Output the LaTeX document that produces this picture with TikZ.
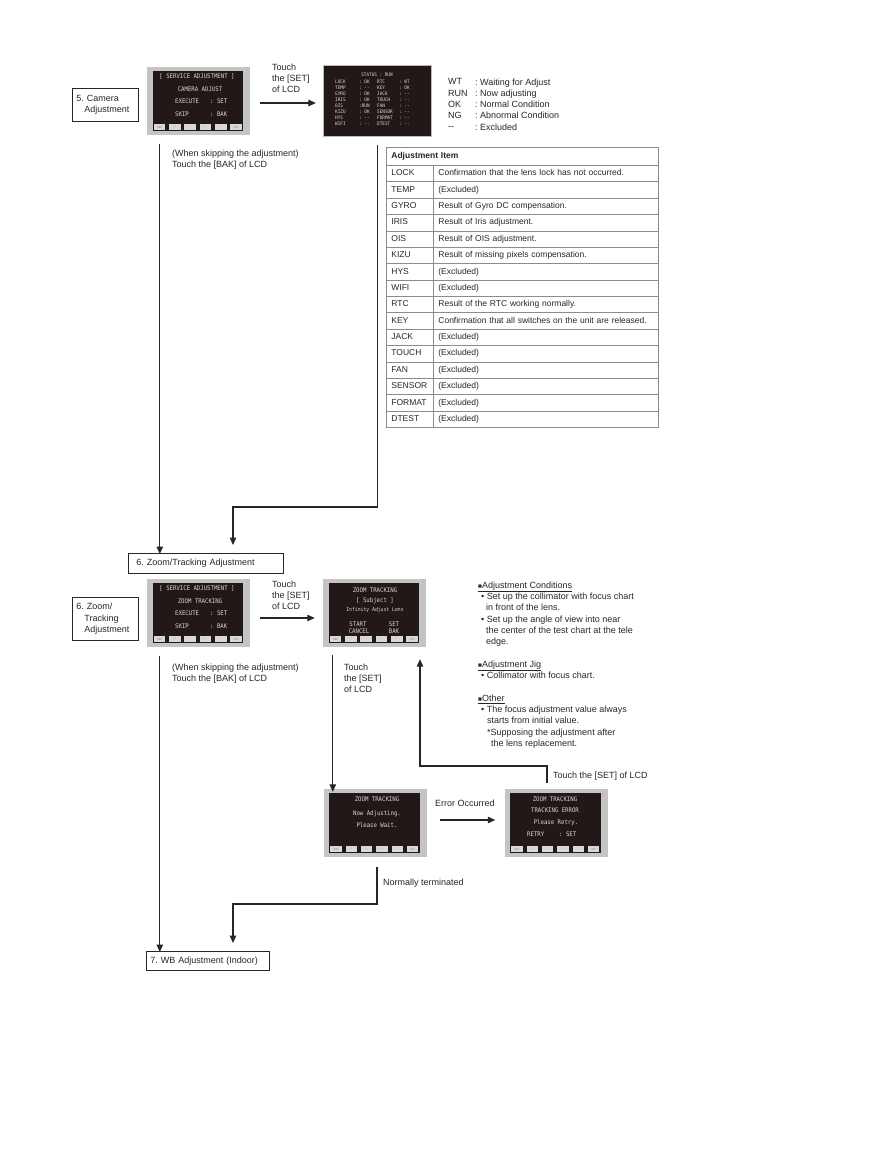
\documentclass[tikz,border=0pt]{standalone}
\usepackage{fontspec}
\setmainfont{Liberation Sans}
\newfontfamily\lcdfont[FakeStretch=0.9]{DejaVu Sans Mono}
\usetikzlibrary{arrows.meta}

\definecolor{ink}{HTML}{262626}
\definecolor{lcdgray}{HTML}{C4C4C4}
\definecolor{lcddark}{HTML}{211817}
\definecolor{lcdtext}{HTML}{DDD8D3}
\definecolor{keygray}{HTML}{D8D8D8}
\definecolor{rule}{HTML}{8C8C8C}

% dark face and key strip of an LCD screen node
\newcommand{\lcdface}[1]{%
  \fill[lcddark] ([shift={(6,4)}]#1.north west) rectangle ([shift={(-7,-4)}]#1.south east);
  \foreach \k [count=\i from 0] in {BAK,<,\textasciicircum,v,>,SET}{
    \fill[keygray] ([shift={({7+\i*15.3},-5)}]#1.south west) rectangle ++(11.5,-6);
    \node[font=\lcdfont\fontsize{2.6}{3}\selectfont, text=gray, inner sep=0pt] (#1k\i)
      at ([shift={({12.75+\i*15.3},-8)}]#1.south west) {\k};
  }%
}
\newcommand{\sqmark}{{\fontsize{6.5}{6.5}\selectfont■}}

\begin{document}
\frenchspacing
\begin{tikzpicture}[x=1pt,y=-1pt,
    flow/.style={draw=ink, line width=1.1pt, -{Triangle[length=7.5pt,width=6.5pt]}},
    stepbox/.style={draw=ink, line width=0.8pt, anchor=north west, inner ysep=0pt,
      align=left, text=ink, font=\fontsize{9}{11.3}\selectfont},
    lbl/.style={anchor=north west, inner sep=0pt, align=left, text=ink,
      font=\fontsize{9}{11.3}\selectfont},
    lcd/.style={fill=lcdgray, minimum width=103pt, minimum height=68pt, inner sep=0pt},
    lcdtxt/.style={text=lcdtext, inner sep=0pt, font=\lcdfont\fontsize{6.3}{7}\selectfont},
    stattxt/.style={text=lcdtext, inner sep=0pt, anchor=north west, align=left,
      font=\lcdfont\fontsize{4.8}{6.1}\selectfont},
    cell/.style={draw=rule, line width=0.8pt, anchor=north west, minimum height=16.375pt,
      inner xsep=5pt, inner ysep=0pt, text height=6.3pt, text depth=1.8pt,
      align=left, text=ink, font=\fontsize{8.5}{10}\selectfont}]

  \useasboundingbox (0,0) rectangle (882,1152);

  % ---- 5. camera adjustment
  \node[stepbox, text width=58pt, inner xsep=4pt, minimum height=33pt] (s5) at (72,88)
    {5. Camera\\\hspace*{8pt}Adjustment};

  \node[lcd] (A1) at (198.5,101) {};
  \lcdface{A1}
  \node[lcdtxt] (a1t) at (197,77) {[ SERVICE ADJUSTMENT ]};
  \node[lcdtxt] (a1m) at (200,89) {CAMERA ADJUST};
  \node[lcdtxt, anchor=west] (a1e) at (175,101.5) {EXECUTE};
  \node[lcdtxt, anchor=west] (a1s) at (210,101.5) {: SET};
  \node[lcdtxt, anchor=west] (a1k) at (175,114) {SKIP};
  \node[lcdtxt, anchor=west] (a1b) at (210,114) {: BAK};

  \node[fill=lcddark, draw=gray!55, line width=1.2pt, minimum width=108pt,
    minimum height=71pt, inner sep=0pt] (st) at (377.5,101) {};
  \node[stattxt, anchor=center] (sth) at (377,75) {STATUS : RUN};
  \node[stattxt] (stn1) at (335,79.5) {LOCK\\TEMP\\GYRO\\IRIS\\OIS\\KIZU\\HYS\\WIFI};
  \node[stattxt] (stv1) at (359,79.5) {: OK\\: -{}-\\: OK\\: OK\\:RUN\\: OK\\: -{}-\\: -{}-};
  \node[stattxt] (stn2) at (377,79.5) {RTC\\KEY\\JACK\\TOUCH\\FAN\\SENSOR\\FORMAT\\DTEST};
  \node[stattxt] (stv2) at (399,79.5) {: WT\\: OK\\: -{}-\\: -{}-\\: -{}-\\: -{}-\\: -{}-\\: -{}-};

  \node[lbl] (t1) at (272,63.5) {Touch\\the [SET]\\of LCD};
  \draw[flow] ([shift={(10,2)}]A1.east) -- ([shift={(-7,2)}]st.west);

  \node[lbl, font=\fontsize{9}{11.25}\selectfont] (lgk) at (448,78.5) {WT\\RUN\\OK\\NG\\-{}-};
  \node[lbl, font=\fontsize{9}{11.25}\selectfont] (lgv) at (475,78.5)
    {: Waiting for Adjust\\: Now adjusting\\: Normal Condition\\: Abnormal Condition\\: Excluded};

  % ---- adjustment items
  \node[cell, minimum height=18pt, text width=262pt, font=\bfseries\fontsize{8.5}{10}\selectfont]
    (th) at (386,147) {Adjustment Item};
  \foreach \n/\d [count=\i from 0] in {LOCK/Confirmation that the lens lock has not occurred.,
      TEMP/(Excluded), GYRO/Result of Gyro DC compensation., IRIS/Result of Iris adjustment.,
      OIS/Result of OIS adjustment., KIZU/Result of missing pixels compensation.,
      HYS/(Excluded), WIFI/(Excluded), RTC/Result of the RTC working normally.,
      KEY/Confirmation that all switches on the unit are released.,
      JACK/(Excluded), TOUCH/(Excluded), FAN/(Excluded), SENSOR/(Excluded),
      FORMAT/(Excluded), DTEST/(Excluded)}{
    \node[cell, text width=37pt] (tn\i) at (386,{165+\i*16.375}) {\n};
    \node[cell, text width=215pt] (td\i) at (433,{165+\i*16.375}) {\d};
  }

  \node[lbl] (t2) at (172,149.5) {(When skipping the adjustment)\\Touch the [BAK] of LCD};

  \node[stepbox, text width=139pt, inner xsep=8pt, minimum height=20pt] (zt) at (128,553)
    {6. Zoom/Tracking Adjustment};

  \draw[flow, shorten >=8pt] ([shift={(13,9)}]A1.south west) -- ([shift={(13,9)}]A1.south west |- zt.north);
  \coordinate (j1) at (233,507);
  \draw[flow, shorten >=8pt] ([shift={(0,8)}]st.south) |- (j1) -- (j1 |- zt.north);

  % ---- 6. zoom/tracking adjustment
  \node[stepbox, text width=58pt, inner xsep=4pt, minimum height=43pt] (s6) at (72,597)
    {6. Zoom/\\\hspace*{8pt}Tracking\\\hspace*{8pt}Adjustment};

  \node[lcd] (B1) at (198.5,613) {};
  \lcdface{B1}
  \node[lcdtxt] (b1t) at (197,589) {[ SERVICE ADJUSTMENT ]};
  \node[lcdtxt] (b1m) at (200,601) {ZOOM TRACKING};
  \node[lcdtxt, anchor=west] (b1e) at (175,613.5) {EXECUTE};
  \node[lcdtxt, anchor=west] (b1s) at (210,613.5) {: SET};
  \node[lcdtxt, anchor=west] (b1k) at (175,626) {SKIP};
  \node[lcdtxt, anchor=west] (b1b) at (210,626) {: BAK};

  \node[lcd] (B2) at (374.5,613) {};
  \lcdface{B2}
  \node[lcdtxt] (b2t) at (375,590) {ZOOM TRACKING};
  \node[lcdtxt] (b2s) at (375,601) {[ Subject ]};
  \node[lcdtxt, font=\lcdfont\fontsize{5.3}{6}\selectfont] (b2l) at (375,610) {Infinity Adjust Lens};
  \node[lcdtxt] (b2a) at (358,624) {START};
  \node[lcdtxt] (b2c) at (359,631) {CANCEL};
  \node[lcdtxt] (b2e) at (394,624) {SET};
  \node[lcdtxt] (b2b) at (394,631) {BAK};

  \node[lbl] (t3) at (272,580.5) {Touch\\the [SET]\\of LCD};
  \draw[flow] ([shift={(10,5)}]B1.east) -- ([shift={(-8,5)}]B2.west);

  \node[lbl] (nt) at (478,581.5) {\underline{\sqmark Adjustment Conditions}\\
    \hspace*{3pt}• Set up the collimator with focus chart\\
    \hspace*{8pt}in front of the lens.\\
    \hspace*{3pt}• Set up the angle of view into near\\
    \hspace*{8pt}the center of the test chart at the tele\\
    \hspace*{8pt}edge.\\[11.3pt]
    \underline{\sqmark Adjustment Jig}\\
    \hspace*{3pt}• Collimator with focus chart.\\[11.3pt]
    \underline{\sqmark Other}\\
    \hspace*{3pt}• The focus adjustment value always\\
    \hspace*{9pt}starts from initial value.\\
    \hspace*{9pt}*Supposing the adjustment after\\
    \hspace*{13pt}the lens replacement.};

  \node[lbl] (t4) at (172,663.5) {(When skipping the adjustment)\\Touch the [BAK] of LCD};
  \node[lbl] (t5) at (344,663.5) {Touch\\the [SET]\\of LCD};

  \node[lcd] (C1) at (375,823) {};
  \lcdface{C1}
  \node[lcdtxt] (c1t) at (377,799) {ZOOM TRACKING};
  \node[lcdtxt] (c1n) at (377,814) {Now Adjusting.};
  \node[lcdtxt] (c1w) at (377,825) {Please Wait.};

  \node[lcd] (C2) at (556,823) {};
  \lcdface{C2}
  \node[lcdtxt] (c2t) at (555,799) {ZOOM TRACKING};
  \node[lcdtxt] (c2e) at (555,810) {TRACKING ERROR};
  \node[lcdtxt] (c2p) at (556,823) {Please Retry.};
  \node[lcdtxt, anchor=west] (c2r) at (527,834) {RETRY};
  \node[lcdtxt, anchor=west] (c2s) at (559,834) {: SET};

  \draw[flow, shorten >=5pt] ([shift={(10,8)}]B2.south west) -- ([shift={(10,8)}]B2.south west |- C1.north);
  \node[lbl] (t6) at (553,771.5) {Touch the [SET] of LCD};
  \coordinate (j2) at (420,766);
  \draw[flow, shorten >=12pt] ([shift={(-9,-6)}]C2.north) |- (j2) -- (j2 |- B2.south);

  \node[lbl] (t7) at (435,799.5) {Error Occurred};
  \draw[flow] ([shift={(13,-3)}]C1.east) -- ([shift={(-9,-3)}]C2.west);

  \node[stepbox, text width=115pt, inner xsep=4pt, minimum height=19pt] (s7) at (146,951)
    {7. WB Adjustment (Indoor)};

  \draw[flow, shorten >=8pt] ([shift={(13,9)}]B1.south west) -- ([shift={(13,9)}]B1.south west |- s7.north);
  \node[lbl] (t8) at (383,878.5) {Normally terminated};
  \coordinate (j3) at (233,904);
  \draw[flow, shorten >=8pt] ([shift={(2,10)}]C1.south) |- (j3) -- (j3 |- s7.north);
\end{tikzpicture}
\end{document}
